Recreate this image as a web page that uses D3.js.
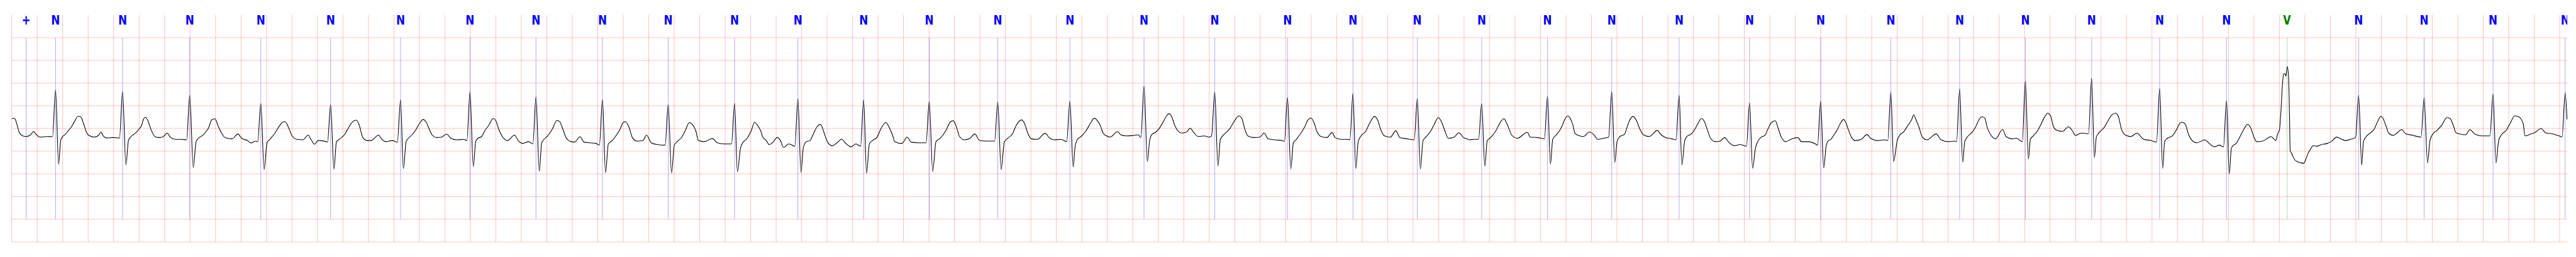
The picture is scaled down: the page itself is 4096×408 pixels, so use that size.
<!DOCTYPE html>
<html><head><meta charset="utf-8">
<script src="https://cdn.jsdelivr.net/npm/d3@7"></script>
<style>html,body{margin:0;padding:0;background:#fff;overflow:hidden}</style>
</head><body><svg id="c" width="4096" height="408"></svg>
<script>
// Annotation times (s) and symbols
const annTimes = [0.113,0.344,0.870,1.397,1.955,2.503,3.052,3.597,4.115,4.637,5.153,5.674,6.171,6.687,7.202,7.740,8.306,8.888,9.443,10.014,10.528,11.033,11.538,12.055,12.559,13.088,13.641,14.199,14.750,15.290,15.806,16.326,16.860,17.385,17.860,18.422,18.936,19.477,20.043];
const annSymbols = ['+','N','N','N','N','N','N','N','N','N','N','N','N','N','N','N','N','N','N','N','N','N','N','N','N','N','N','N','N','N','N','N','N','N','V','N','N','N','N'];
const symbolColors = {'+':'#0000ff','N':'#0000ff','V':'#008000'};
// ECG trace: [time s, amplitude mV]
const trace = [
[0.000,0.222],[0.022,0.222],[0.028,0.2],[0.037,0.126],[0.047,0.025],[0.056,-0.063],[0.078,-0.15],[0.111,-0.177],[0.148,-0.139],[0.172,-0.063],[0.185,-0.11],[0.222,-0.19],[0.278,-0.177],[0.320,-0.18],
[0.344,0.846],[0.368,-0.788],[0.384,-0.265],[0.399,-0.18],[0.416,-0.14],[0.444,-0.05],[0.462,0.01],[0.490,0.14],[0.522,0.27],[0.540,0.26],[0.565,0.10],[0.589,-0.10],[0.611,-0.16],[0.648,-0.19],[0.685,-0.14],[0.700,-0.076],[0.718,-0.164],[0.749,-0.21],[0.796,-0.2],[0.846,-0.21],
[0.870,0.816],[0.896,-0.803],[0.916,-0.265],[0.929,-0.2],[0.953,-0.139],[0.981,-0.076],[0.999,-0.013],[1.018,0.063],[1.036,0.215],[1.049,0.247],[1.064,0.2],[1.092,-0.013],[1.119,-0.164],[1.147,-0.2],[1.184,-0.19],[1.221,-0.1],[1.243,-0.19],[1.286,-0.24],[1.332,-0.24],[1.373,-0.25],
[1.397,0.727],[1.425,-0.859],[1.447,-0.29],[1.471,-0.2],[1.499,-0.152],[1.526,-0.063],[1.545,0.013],[1.569,0.19],[1.595,0.215],[1.619,0.063],[1.647,-0.1],[1.674,-0.2],[1.730,-0.227],[1.776,-0.12],[1.804,-0.215],[1.850,-0.265],[1.878,-0.32],[1.915,-0.278],[1.931,-0.29],
[1.955,0.55],[1.981,-0.904],[2.004,-0.316],[2.026,-0.24],[2.063,-0.114],[2.100,0.05],[2.127,0.139],[2.146,0.15],[2.174,0.013],[2.201,-0.164],[2.238,-0.24],[2.285,-0.25],[2.327,-0.146],[2.349,-0.24],[2.377,-0.346],[2.405,-0.265],[2.470,-0.29],[2.479,-0.3],
[2.503,0.528],[2.529,-0.90],[2.549,-0.29],[2.571,-0.24],[2.618,-0.114],[2.645,0.025],[2.673,0.139],[2.705,0.184],[2.729,0.063],[2.756,-0.2],[2.790,-0.265],[2.819,-0.265],[2.880,-0.146],[2.902,-0.227],[2.939,-0.29],[2.985,-0.265],[3.027,-0.3],
[3.052,0.631],[3.074,-0.884],[3.096,-0.29],[3.114,-0.215],[3.142,-0.139],[3.170,-0.038],[3.198,0.1],[3.231,0.2],[3.253,0.139],[3.281,-0.038],[3.299,-0.139],[3.336,-0.2],[3.373,-0.19],[3.414,-0.126],[3.447,-0.215],[3.494,-0.25],[3.549,-0.24],[3.573,-0.265],
[3.597,0.80],[3.623,-0.84],[3.642,-0.29],[3.660,-0.215],[3.688,-0.177],[3.716,-0.038],[3.743,0.063],[3.780,0.222],[3.799,0.177],[3.826,-0.038],[3.851,-0.177],[3.891,-0.265],[3.947,-0.146],[3.975,-0.265],[4.012,-0.328],[4.058,-0.29],[4.091,-0.34],
[4.115,0.694],[4.141,-0.942],[4.160,-0.316],[4.178,-0.24],[4.206,-0.164],[4.243,-0.013],[4.280,0.177],[4.302,0.152],[4.326,-0.013],[4.354,-0.215],[4.391,-0.29],[4.418,-0.3],[4.461,-0.18],[4.492,-0.3],[4.539,-0.316],[4.585,-0.328],[4.613,-0.366],
[4.637,0.636],[4.661,-0.972],[4.683,-0.34],[4.714,-0.265],[4.742,-0.164],[4.775,-0.013],[4.798,0.126],[4.816,0.152],[4.844,0.038],[4.872,-0.2],[4.909,-0.278],[4.955,-0.265],[4.983,-0.146],[5.020,-0.316],[5.066,-0.354],[5.129,-0.366],
[5.153,0.523],[5.179,-0.98],[5.201,-0.366],[5.223,-0.29],[5.260,-0.19],[5.288,-0.038],[5.319,0.131],[5.343,0.088],[5.371,-0.063],[5.390,-0.265],[5.436,-0.29],[5.500,-0.22],[5.538,-0.316],[5.593,-0.34],[5.650,-0.34],
[5.674,0.55],[5.696,-0.952],[5.720,-0.44],[5.738,-0.316],[5.766,-0.24],[5.803,-0.063],[5.831,0.139],[5.849,0.088],[5.877,-0.038],[5.896,-0.19],[5.923,-0.265],[5.946,-0.354],[5.979,-0.29],[6.007,-0.2],[6.034,-0.265],[6.058,-0.417],[6.099,-0.34],[6.147,-0.39],
[6.171,0.652],[6.195,-0.965],[6.214,-0.417],[6.238,-0.29],[6.266,-0.265],[6.293,-0.114],[6.321,0.038],[6.349,0.088],[6.377,-0.1],[6.404,-0.3],[6.441,-0.38],[6.478,-0.316],[6.515,-0.235],[6.543,-0.316],[6.589,-0.404],[6.626,-0.34],[6.663,-0.39],
[6.687,0.631],[6.710,-0.985],[6.732,-0.34],[6.756,-0.265],[6.793,-0.19],[6.821,-0.013],[6.861,0.131],[6.885,0.038],[6.913,-0.139],[6.931,-0.29],[6.987,-0.328],[7.029,-0.19],[7.061,-0.3],[7.116,-0.316],[7.177,-0.316],
[7.202,0.588],[7.229,-0.947],[7.255,-0.29],[7.283,-0.227],[7.311,-0.139],[7.338,-0.013],[7.366,0.139],[7.390,0.172],[7.412,0.063],[7.440,-0.177],[7.477,-0.25],[7.523,-0.215],[7.560,-0.12],[7.597,-0.265],[7.653,-0.278],[7.715,-0.278],
[7.740,0.583],[7.766,-0.904],[7.792,-0.29],[7.819,-0.215],[7.856,-0.114],[7.884,0.063],[7.927,0.189],[7.949,0.114],[7.977,-0.114],[8.004,-0.227],[8.051,-0.24],[8.112,-0.106],[8.143,-0.2],[8.180,-0.25],[8.235,-0.24],[8.281,-0.29],
[8.306,0.60],[8.332,-0.846],[8.346,-0.417],[8.365,-0.24],[8.393,-0.177],[8.430,-0.063],[8.467,0.114],[8.498,0.227],[8.524,0.164],[8.547,0.05],[8.566,-0.1],[8.594,-0.164],[8.621,-0.19],[8.681,-0.07],[8.705,-0.139],[8.751,-0.164],[8.806,-0.152],[8.843,-0.139],[8.863,-0.2],
[8.888,0.932],[8.914,-0.727],[8.932,-0.265],[8.951,-0.126],[8.982,-0.076],[9.010,0.013],[9.037,0.139],[9.065,0.278],[9.084,0.328],[9.102,0.278],[9.130,0.063],[9.158,-0.063],[9.185,-0.1],[9.223,-0.076],[9.250,0.008],[9.278,-0.088],[9.315,-0.177],[9.361,-0.164],[9.398,-0.19],[9.418,-0.164],
[9.443,0.80],[9.468,-0.826],[9.487,-0.24],[9.509,-0.152],[9.537,-0.076],[9.565,0.013],[9.592,0.139],[9.633,0.278],[9.657,0.215],[9.676,0.013],[9.703,-0.164],[9.750,-0.2],[9.796,-0.19],[9.831,-0.1],[9.861,-0.227],[9.916,-0.25],[9.972,-0.265],[9.990,-0.285],
[10.014,0.682],[10.040,-0.891],[10.060,-0.316],[10.083,-0.24],[10.110,-0.139],[10.147,0.025],[10.175,0.19],[10.197,0.232],[10.221,0.139],[10.245,-0.063],[10.277,-0.177],[10.323,-0.2],[10.364,-0.088],[10.388,-0.2],[10.434,-0.24],[10.480,-0.24],[10.504,-0.245],
[10.528,0.775],[10.550,-0.884],[10.569,-0.29],[10.591,-0.164],[10.628,-0.063],[10.656,0.1],[10.697,0.265],[10.721,0.19],[10.748,-0.038],[10.776,-0.164],[10.822,-0.19],[10.865,-0.05],[10.896,-0.2],[10.952,-0.227],[11.009,-0.25],
[11.033,0.657],[11.057,-0.889],[11.078,-0.265],[11.100,-0.19],[11.137,-0.063],[11.165,0.088],[11.198,0.24],[11.220,0.164],[11.248,-0.038],[11.276,-0.215],[11.322,-0.19],[11.359,-0.093],[11.396,-0.2],[11.429,-0.235],[11.440,-0.25],[11.477,-0.24],[11.514,-0.24],
[11.538,0.548],[11.563,-0.828],[11.582,-0.265],[11.597,-0.227],[11.624,-0.152],[11.652,-0.038],[11.680,0.114],[11.713,0.215],[11.735,0.114],[11.754,-0.013],[11.772,-0.139],[11.819,-0.215],[11.896,-0.083],[11.920,-0.19],[11.976,-0.2],[12.031,-0.227],
[12.055,0.707],[12.078,-0.788],[12.096,-0.24],[12.124,-0.139],[12.152,-0.038],[12.170,0.063],[12.189,0.19],[12.213,0.278],[12.235,0.215],[12.253,0.088],[12.272,-0.114],[12.309,-0.164],[12.337,-0.177],[12.383,-0.076],[12.420,-0.139],[12.448,-0.24],[12.494,-0.215],[12.535,-0.19],
[12.559,0.813],[12.583,-0.745],[12.601,-0.29],[12.623,-0.177],[12.660,-0.126],[12.679,0.025],[12.697,0.164],[12.725,0.265],[12.753,0.177],[12.780,-0.013],[12.808,-0.139],[12.854,-0.177],[12.916,-0.043],[12.947,-0.139],[12.984,-0.2],[13.030,-0.227],[13.064,-0.25],
[13.088,0.732],[13.110,-0.803],[13.132,-0.265],[13.150,-0.177],[13.187,-0.114],[13.215,0.0],[13.234,0.1],[13.265,0.222],[13.289,0.139],[13.308,-0.013],[13.335,-0.215],[13.372,-0.29],[13.409,-0.278],[13.446,-0.2],[13.474,-0.29],[13.520,-0.38],[13.567,-0.354],[13.617,-0.39],
[13.641,0.563],[13.665,-0.876],[13.687,-0.44],[13.705,-0.29],[13.733,-0.19],[13.761,-0.152],[13.789,0.013],[13.816,0.139],[13.844,0.169],[13.862,0.038],[13.890,-0.19],[13.927,-0.29],[13.964,-0.24],[14.020,-0.2],[14.048,-0.29],[14.103,-0.29],[14.158,-0.34],[14.175,-0.366],
[14.199,0.598],[14.223,-0.871],[14.242,-0.39],[14.260,-0.265],[14.279,-0.24],[14.304,-0.139],[14.332,-0.013],[14.359,0.139],[14.378,0.2],[14.396,0.139],[14.415,-0.013],[14.443,-0.2],[14.470,-0.265],[14.517,-0.24],[14.563,-0.134],[14.591,-0.215],[14.646,-0.265],[14.702,-0.25],[14.726,-0.265],
[14.750,0.795],[14.772,-0.732],[14.785,-0.543],[14.800,-0.265],[14.822,-0.139],[14.850,-0.076],[14.883,0.063],[14.914,0.2],[14.929,0.303],[14.946,0.2],[14.970,0.038],[14.997,-0.19],[15.034,-0.25],[15.105,-0.12],[15.145,-0.25],[15.201,-0.29],[15.247,-0.278],[15.266,-0.29],
[15.290,0.871],[15.314,-0.74],[15.330,-0.29],[15.349,-0.19],[15.386,-0.088],[15.414,0.025],[15.441,0.19],[15.465,0.26],[15.488,0.227],[15.506,0.025],[15.534,-0.139],[15.571,-0.227],[15.628,-0.02],[15.654,-0.177],[15.700,-0.227],[15.737,-0.215],[15.782,-0.29],
[15.806,1.043],[15.830,-0.674],[15.845,-0.24],[15.867,-0.164],[15.904,-0.038],[15.932,0.114],[15.959,0.265],[15.982,0.336],[16.006,0.265],[16.024,0.063],[16.052,-0.038],[16.098,-0.063],[16.144,0.038],[16.172,-0.038],[16.200,-0.152],[16.246,-0.1],[16.302,-0.114],
[16.326,1.106],[16.348,-0.639],[16.363,-0.19],[16.385,-0.088],[16.422,0.013],[16.459,0.19],[16.486,0.303],[16.514,0.336],[16.536,0.265],[16.560,-0.013],[16.588,-0.139],[16.634,-0.177],[16.681,-0.1],[16.736,-0.24],[16.792,-0.265],[16.836,-0.3],
[16.860,0.876],[16.884,-0.879],[16.899,-0.29],[16.921,-0.215],[16.958,-0.164],[16.995,-0.013],[17.014,0.1],[17.036,0.139],[17.060,0.1],[17.088,-0.139],[17.115,-0.265],[17.152,-0.316],[17.216,-0.25],[17.244,-0.316],[17.291,-0.404],[17.329,-0.366],[17.361,-0.404],
[17.385,0.614],[17.406,-0.997],[17.423,-0.442],[17.436,-0.379],[17.461,-0.328],[17.498,-0.139],[17.527,0.013],[17.551,0.093],[17.574,0.018],[17.602,-0.2],[17.621,-0.29],[17.668,-0.278],[17.715,-0.2],[17.734,-0.177],[17.753,-0.22],[17.772,-0.265],
[17.787,-0.114],[17.800,-0.038],[17.813,0.417],[17.824,0.972],[17.834,1.205],[17.843,1.212],[17.851,1.154],[17.862,1.364],[17.872,1.149],[17.879,0.341],[17.885,-0.505],[17.894,-0.53],[17.904,-0.606],[17.922,-0.694],[17.941,-0.732],[17.970,-0.758],[17.992,-0.765],[18.007,-0.682],[18.026,-0.543],[18.045,-0.455],[18.064,-0.379],[18.092,-0.391],[18.130,-0.354],[18.177,-0.328],[18.205,-0.29],[18.252,-0.189],[18.281,-0.227],[18.318,-0.265],[18.356,-0.24],[18.398,-0.2],
[18.422,0.732],[18.446,-0.803],[18.460,-0.29],[18.478,-0.19],[18.507,-0.114],[18.544,-0.013],[18.573,0.164],[18.597,0.27],[18.610,0.24],[18.639,0.038],[18.657,-0.1],[18.695,-0.152],[18.723,-0.1],[18.761,-0.025],[18.789,-0.11],[18.846,-0.15],[18.912,-0.19],
[18.936,0.677],[18.963,-0.758],[18.982,-0.265],[19.006,-0.114],[19.034,-0.05],[19.072,0.063],[19.115,0.24],[19.138,0.227],[19.166,0.063],[19.185,-0.088],[19.223,-0.126],[19.261,-0.139],[19.295,-0.025],[19.336,-0.126],[19.392,-0.164],[19.453,-0.164],
[19.477,0.76],[19.500,-0.758],[19.521,-0.265],[19.543,-0.139],[19.581,-0.038],[19.609,0.1],[19.647,0.278],[19.675,0.265],[19.713,0.114],[19.728,-0.164],[19.769,-0.126],[19.807,-0.088],[19.854,0.0],[19.892,-0.1],[19.939,-0.114],[19.996,-0.164],[20.019,-0.184],
[20.043,0.783],[20.058,0.2]
];
const timeDomain = [0, 20.06];
const mvDomain = [-2.5, 2.5];
const timeGrid = d3.range(0, 20.001, 0.2);
const mvGrid = [-2.5,-2.0,-1.5,-1.0,-0.5,0,0.5,1.0,1.5,2.0];

const K = 0.544;
const svg = d3.select('#c');
const root = svg.append('g').attr('transform', `scale(${K})`);
const x = d3.scaleLinear().domain(timeDomain).range([34.3, 7504]);
const y = d3.scaleLinear().domain(mvDomain).range([706, 44]);

root.append('defs').append('clipPath').attr('id','ax')
  .append('rect').attr('x',34.3).attr('y',44).attr('width',7504-34.3).attr('height',706-44);

const grid = root.append('g').attr('stroke','#ff0000').attr('stroke-opacity',0.27).attr('stroke-width',1.7);
grid.selectAll('line.v').data(timeGrid).join('line').attr('class','v')
  .attr('x1',d=>x(d)).attr('x2',d=>x(d)).attr('y1',y(2.5)).attr('y2',y(-2.5));
grid.selectAll('line.h').data(mvGrid).join('line').attr('class','h')
  .attr('x1',x(0)).attr('x2',x(20.06)).attr('y1',d=>y(d)).attr('y2',d=>y(d));

const ann = annTimes.map((t,i)=>({t, s: annSymbols[i]}));
root.append('g').selectAll('line').data(ann).join('line')
  .attr('x1',d=>x(d.t)).attr('x2',d=>x(d.t)).attr('y1',y(2.0)).attr('y2',y(-2.0))
  .attr('stroke',d=>symbolColors[d.s]).attr('stroke-opacity',0.55).attr('stroke-width',1.1);

root.append('g').attr('clip-path','url(#ax)').selectAll('text').data(ann).join('text')
  .attr('transform',d=>`translate(${x(d.t)},${y(2.29)}) scale(0.81,1)`)
  .attr('text-anchor','middle')
  .attr('font-family','DejaVu Sans, sans-serif').attr('font-weight','bold').attr('font-size',38)
  .attr('fill',d=>symbolColors[d.s]).text(d=>d.s);

const line = d3.line().x(d=>x(d[0])).y(d=>y(d[1])).curve(d3.curveMonotoneX);
root.append('path').datum(trace).attr('d',line).attr('fill','none')
  .attr('stroke','#000').attr('stroke-width',2.0).attr('stroke-linejoin','round');
</script></body></html>
